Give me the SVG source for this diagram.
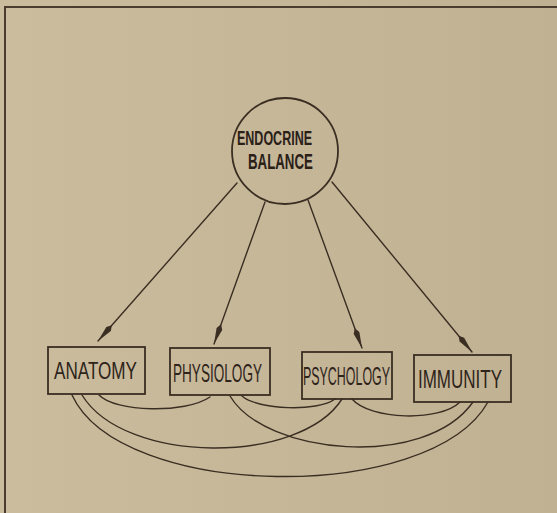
<svg xmlns="http://www.w3.org/2000/svg" width="557" height="513" viewBox="0 0 557 513">
<defs>
<linearGradient id="bg" x1="0" y1="0" x2="1" y2="0">
<stop offset="0" stop-color="#cbbc9e"/>
<stop offset="1" stop-color="#c1b193"/>
</linearGradient>
<marker id="ah" markerUnits="userSpaceOnUse" viewBox="0 -3.5 21 7" markerWidth="21" markerHeight="7" refX="21" refY="0" orient="auto">
<path d="M0,0 L5,-3 L21,0 L5,3 Z" fill="#3a2e22"/>
</marker>
<style>
.ln{fill:none;stroke:#3a2e22;stroke-width:1.4;stroke-linecap:round}
.bx{fill:none;stroke:#3a2e22;stroke-width:1.8}
.lb{font-family:"Liberation Sans",Arial,sans-serif;font-size:25px;fill:#2e241a}
.cl{font-family:"Liberation Sans",Arial,sans-serif;font-size:21px;font-weight:bold;fill:#2a2018}
.fr{fill:none;stroke:#4a3c2e;stroke-width:2}
</style>
</defs>
<rect x="0" y="0" width="557" height="513" fill="url(#bg)"/>
<path class="fr" d="M5,513 L5,7 L557,7"/>
<g id="connectors">
<line class="ln" x1="237" y1="183" x2="98" y2="341" marker-end="url(#ah)"/>
<line class="ln" x1="265" y1="202" x2="214" y2="344" marker-end="url(#ah)"/>
<line class="ln" x1="308" y1="200" x2="362" y2="348" marker-end="url(#ah)"/>
<line class="ln" x1="332" y1="182" x2="472" y2="352" marker-end="url(#ah)"/>
<path class="ln" d="M99,395 C115,412 185,414 210,397"/>
<path class="ln" d="M242,396 C258,410 318,412 335,399"/>
<path class="ln" d="M352,399 C370,420 440,422 460,402"/>
<path class="ln" d="M82,395 C125,465 300,465 342,399"/>
<path class="ln" d="M230,396 C265,455 425,470 473,402"/>
<path class="ln" d="M72,395 C120,500 430,505 488,402"/>
</g>
<g id="endocrine">
<circle cx="285" cy="151" r="53" fill="none" stroke="#3a2e22" stroke-width="1.8"/>
<text class="cl" transform="translate(237,145) scale(0.6,1)" textLength="125" lengthAdjust="spacingAndGlyphs">ENDOCRINE</text>
<text class="cl" style="font-size:22px" transform="translate(248,169) scale(0.6,1)" textLength="108" lengthAdjust="spacingAndGlyphs">BALANCE</text>
</g>
<g id="anatomy">
<rect class="bx" x="48" y="347" width="97" height="47"/>
<text class="lb" style="font-size:24px" transform="translate(54,379) scale(0.7,1)" textLength="118.6" lengthAdjust="spacingAndGlyphs">ANATOMY</text>
</g>
<g id="physiology">
<rect class="bx" x="170" y="348" width="100" height="47"/>
<text class="lb" transform="translate(173,382) scale(0.55,1)" textLength="161.8" lengthAdjust="spacingAndGlyphs">PHYSIOLOGY</text>
</g>
<g id="psychology">
<rect class="bx" x="302" y="352" width="90" height="47"/>
<text class="lb" transform="translate(303,385) scale(0.5,1)" textLength="174" lengthAdjust="spacingAndGlyphs">PSYCHOLOGY</text>
</g>
<g id="immunity">
<rect class="bx" x="414" y="355" width="97" height="47"/>
<text class="lb" transform="translate(418,388) scale(0.7,1)" textLength="120" lengthAdjust="spacingAndGlyphs">IMMUNITY</text>
</g>
</svg>
